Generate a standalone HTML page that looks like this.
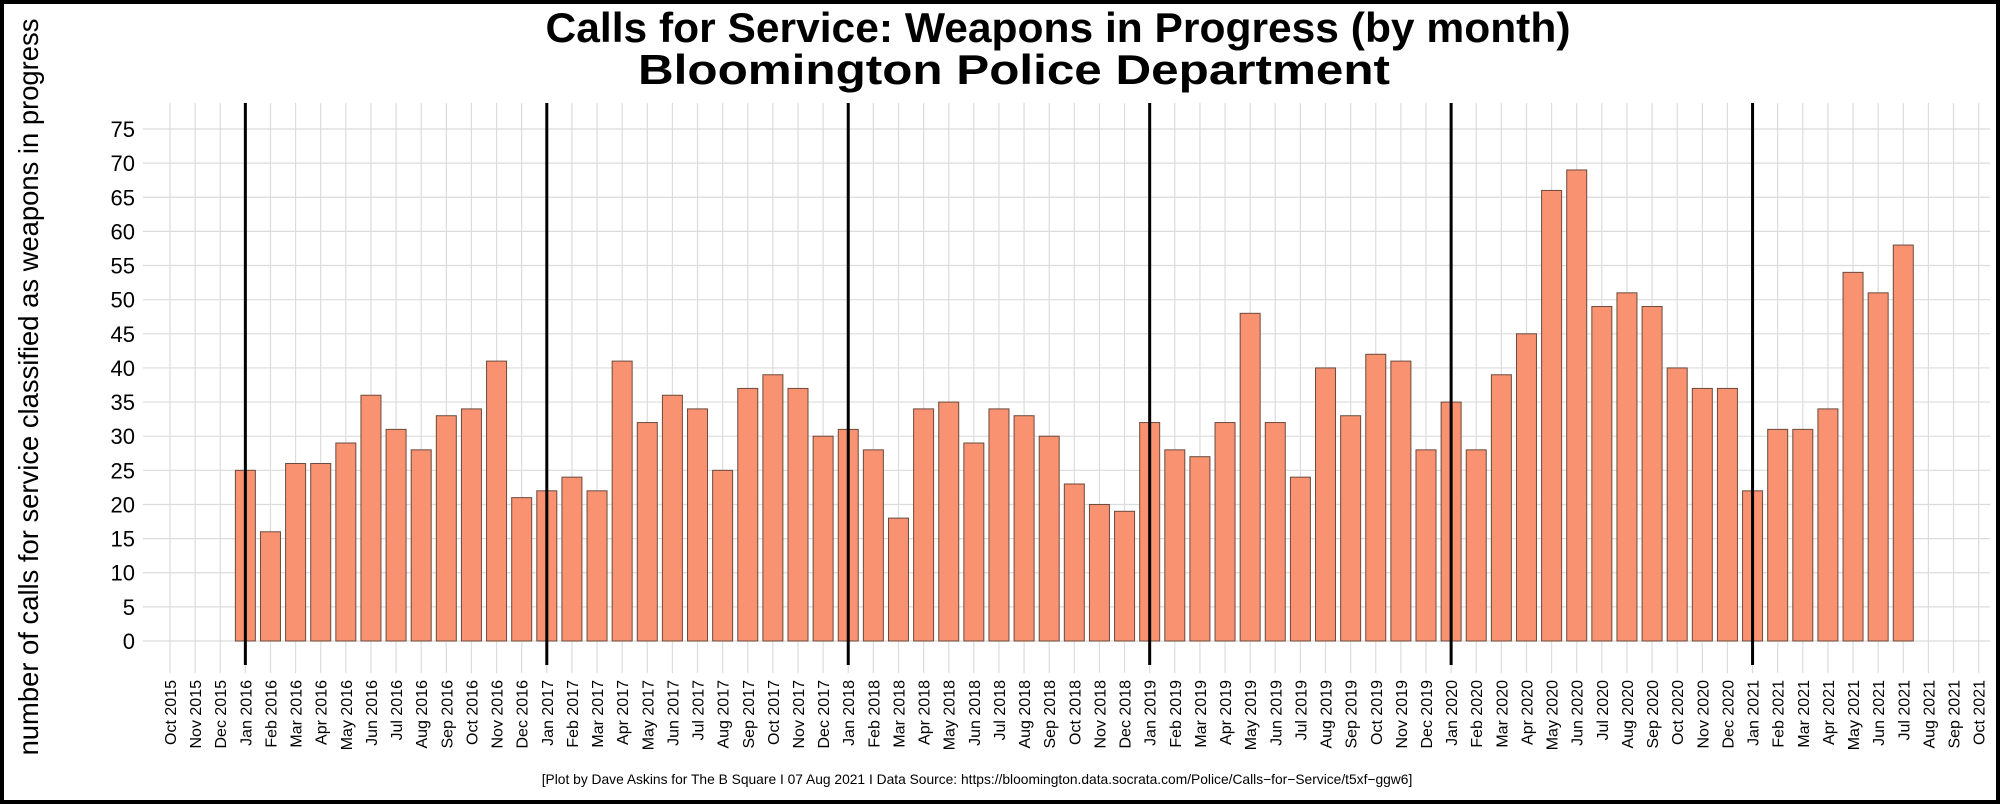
<!DOCTYPE html>
<html><head><meta charset="utf-8">
<style>
html,body{margin:0;padding:0;background:#fff;}
svg{display:block;font-family:"Liberation Sans",sans-serif;}
</style></head>
<body>
<svg id="chart" width="2000" height="804" viewBox="0 0 2000 804" xmlns="http://www.w3.org/2000/svg">
<rect x="0" y="0" width="2000" height="804" fill="#fff"/>
<g id="grid"></g>
<g id="bars"></g>
<g id="yearlines"></g>
<g id="yticks"></g>
<g id="xticks"></g>
<text x="1058" y="42" text-anchor="middle" font-weight="bold" font-size="42" textLength="1025" lengthAdjust="spacingAndGlyphs">Calls for Service: Weapons in Progress (by month)</text>
<text x="1014" y="84" text-anchor="middle" font-weight="bold" font-size="42" textLength="752" lengthAdjust="spacingAndGlyphs">Bloomington Police Department</text>
<text transform="translate(38,387) rotate(-90)" text-anchor="middle" font-size="27.4">number of calls for service classified as weapons in progress</text>
<text x="977" y="784" text-anchor="middle" font-size="13.8">[Plot by Dave Askins for The B Square I 07 Aug 2021 I Data Source: https://bloomington.data.socrata.com/Police/Calls−for−Service/t5xf−ggw6]</text>
<rect x="2" y="2" width="1996" height="800" fill="none" stroke="#000" stroke-width="4"/>
</svg>
<script>
const nCats = 73; // Oct 2015 .. Oct 2021
const dataStartIndex = 3; // Jan 2016
const values2016 = [25,16,26,26,29,36,31,28,33,34,41,21];
const values2017 = [22,24,22,41,32,36,34,25,37,39,37,30];
const values2018 = [31,28,18,34,35,29,34,33,30,23,20,19];
const values2019 = [32,28,27,32,48,32,24,40,33,42,41,28];
const values2020 = [35,28,39,45,66,69,49,51,49,40,37,37];
const values2021 = [22,31,31,34,54,51,58];
const yTicks = [0,5,10,15,20,25,30,35,40,45,50,55,60,65,70,75];
const monthNames = ["Jan","Feb","Mar","Apr","May","Jun","Jul","Aug","Sep","Oct","Nov","Dec"];

const values = [].concat(values2016,values2017,values2018,values2019,values2020,values2021);
const categories = [];
for (let i=0;i<nCats;i++){ const m=(9+i)%12; const y=2015+Math.floor((9+i)/12);
  categories.push(monthNames[m]+" "+y); }

const NS="http://www.w3.org/2000/svg";
const panel={l:143,r:1990,t:103,b:673};
const xScale=i=>170+i*25.12;
const yScale=v=>641-v*(512/75);
const bw=20;
function mk(tag,attrs,parent){const e=document.createElementNS(NS,tag);for(const k in attrs)e.setAttribute(k,attrs[k]);parent.appendChild(e);return e;}
const grid=document.getElementById('grid');
yTicks.forEach(v=>{
  const l=mk('line',{x1:panel.l,x2:panel.r,y1:yScale(v),y2:yScale(v),stroke:'#dcdcdc','stroke-width':1.2},grid);
  
  
  const t=mk('text',{x:135,y:yScale(v)+8,'text-anchor':'end','font-size':22},document.getElementById('yticks'));
  t.textContent=v;
  
  
});
categories.forEach((c,i)=>{
  const x=xScale(i);
  const l=mk('line',{x1:x,x2:x,y1:panel.t,y2:panel.b,stroke:'#dcdcdc','stroke-width':1.2},grid);
  
  
  const t=mk('text',{transform:`translate(${x+6},680) rotate(-90)`,'text-anchor':'end','font-size':16},document.getElementById('xticks'));
  t.textContent=c;
  
  
});
const bars=document.getElementById('bars');
values.forEach((v,j)=>{
  const i=j+dataStartIndex;
  const r=mk('rect',{x:xScale(i)-bw/2,y:yScale(v),width:bw,height:yScale(0)-yScale(v),fill:'#f89270',stroke:'#6b4a3e','stroke-width':1},bars);
  
  
});
const yl=document.getElementById('yearlines');
categories.forEach((c,i)=>{
  if(c.startsWith('Jan')){
    const l=mk('line',{x1:xScale(i),x2:xScale(i),y1:panel.t,y2:665,stroke:'#000','stroke-width':3},yl);
    
    
  }
});
</script>
</body></html>
